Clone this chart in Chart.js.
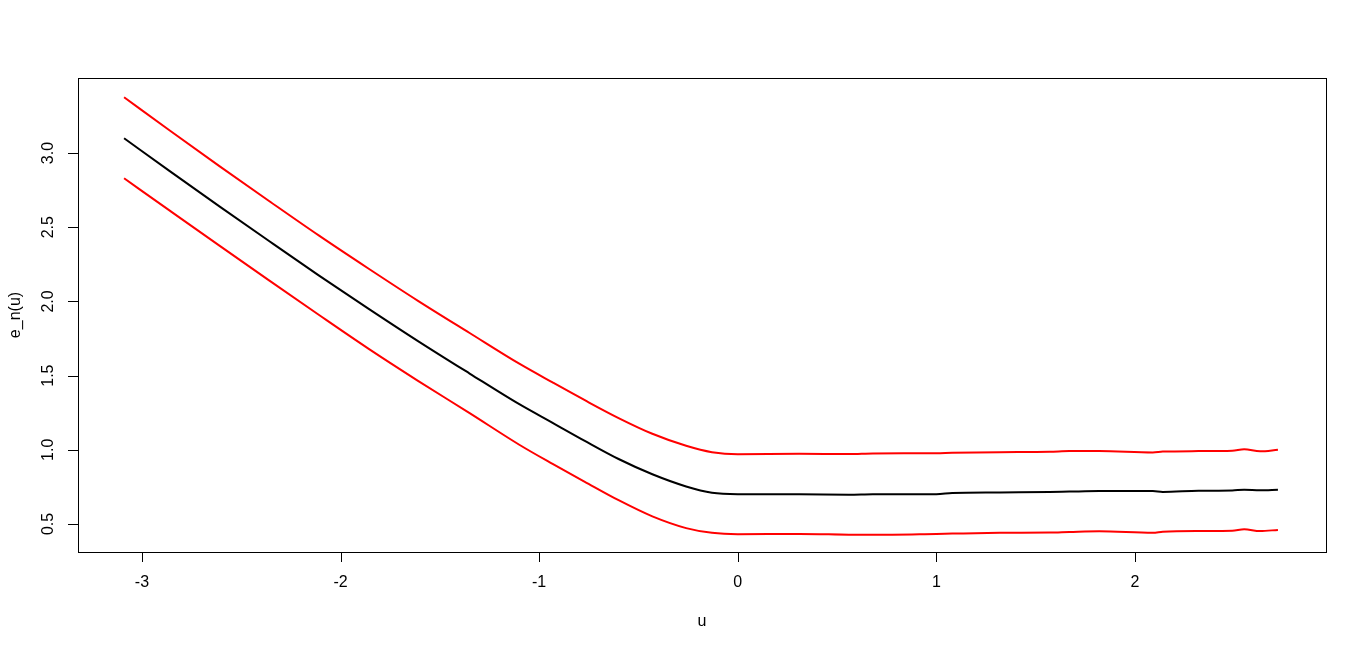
<!DOCTYPE html>
<html>
<head>
<meta charset="utf-8">
<script src="https://cdn.jsdelivr.net/npm/chart.js@4"></script>
<style>
  html, body { margin: 0; padding: 0; background: #fff; }
  canvas { display: block; }
</style>
</head>
<body>
<canvas id="chart" width="1366" height="651"></canvas>
<script>
// ---- data ----
const U = [-3.09, -2.86, -2.61, -2.36, -2.11, -1.86, -1.61, -1.35, -1.10, -0.93, -0.77, -0.60,
           -0.43, -0.26, -0.13, 0.0, 0.31, 0.56, 0.68, 1.00, 1.08, 1.32, 1.57, 1.67,
           1.82, 2.09, 2.14, 2.32, 2.49, 2.55, 2.63, 2.72];

const EN = [3.100, 2.878, 2.641, 2.407, 2.176, 1.952, 1.733, 1.514, 1.307, 1.180, 1.060, 0.938,
            0.835, 0.753, 0.711, 0.701, 0.700, 0.697, 0.700, 0.701, 0.708, 0.712, 0.715, 0.718,
            0.722, 0.722, 0.716, 0.724, 0.726, 0.731, 0.727, 0.731];

const UPPER = [3.376, 3.152, 2.912, 2.677, 2.445, 2.222, 2.004, 1.787, 1.580, 1.452, 1.334, 1.214,
               1.108, 1.027, 0.984, 0.970, 0.973, 0.971, 0.975, 0.977, 0.980, 0.984, 0.986, 0.991,
               0.991, 0.982, 0.988, 0.991, 0.994, 1.004, 0.990, 1.000];

const LOWER = [2.830, 2.612, 2.376, 2.142, 1.910, 1.682, 1.465, 1.247, 1.034, 0.903, 0.784, 0.660,
               0.551, 0.472, 0.440, 0.431, 0.433, 0.428, 0.427, 0.433, 0.435, 0.440, 0.442, 0.446,
               0.451, 0.440, 0.447, 0.453, 0.455, 0.464, 0.452, 0.460];

const X_TICKS = [-3, -2, -1, 0, 1, 2];
const Y_TICKS = [0.5, 1.0, 1.5, 2.0, 2.5, 3.0];
const X_LABEL = "u";
const Y_LABEL = "e_n(u)";

const FONT = "16px 'Liberation Sans', Arial, sans-serif";

function toPoints(xs, ys) {
  return xs.map((x, i) => ({ x: x, y: ys[i] }));
}

function lineSet(values, color) {
  return {
    data: toPoints(U, values),
    borderColor: color,
    borderWidth: 2,
    pointRadius: 0,
    showLine: true,
    fill: false,
    cubicInterpolationMode: "monotone"
  };
}

// R style frame: box, outward ticks, labels
const rFrame = {
  id: "rFrame",
  afterDraw(chart) {
    const { ctx, chartArea: a, scales } = chart;
    const xs = scales.x, ys = scales.y;
    ctx.save();
    ctx.strokeStyle = "#000";
    ctx.lineWidth = 1;
    ctx.strokeRect(a.left + 0.5, a.top + 0.5, a.right - a.left, a.bottom - a.top);

    ctx.fillStyle = "#000";
    ctx.font = FONT;

    // x axis
    ctx.beginPath();
    for (const t of X_TICKS) {
      const px = Math.round(xs.getPixelForValue(t)) + 0.5;
      ctx.moveTo(px, a.bottom);
      ctx.lineTo(px, a.bottom + 10);
    }
    ctx.stroke();
    ctx.textAlign = "center";
    ctx.textBaseline = "middle";
    for (const t of X_TICKS) {
      ctx.fillText(String(t), xs.getPixelForValue(t), a.bottom + 31);
    }
    ctx.fillText(X_LABEL, (a.left + a.right) / 2, a.bottom + 70);

    // y axis
    ctx.beginPath();
    for (const t of Y_TICKS) {
      const py = Math.round(ys.getPixelForValue(t)) + 0.5;
      ctx.moveTo(a.left, py);
      ctx.lineTo(a.left - 10, py);
    }
    ctx.stroke();
    for (const t of Y_TICKS) {
      ctx.save();
      ctx.translate(a.left - 29, ys.getPixelForValue(t));
      ctx.rotate(-Math.PI / 2);
      ctx.fillText(t.toFixed(1), 0, 0);
      ctx.restore();
    }
    ctx.save();
    ctx.translate(a.left - 62, (a.top + a.bottom) / 2);
    ctx.rotate(-Math.PI / 2);
    ctx.fillText(Y_LABEL, 0, 0);
    ctx.restore();

    ctx.restore();
  }
};

new Chart(document.getElementById("chart"), {
  type: "scatter",
  data: {
    datasets: [
      lineSet(EN, "#000000"),
      lineSet(UPPER, "#ff0000"),
      lineSet(LOWER, "#ff0000")
    ]
  },
  options: {
    responsive: false,
    animation: false,
    devicePixelRatio: 1,
    layout: { padding: { top: 78, right: 40, left: 0, bottom: 0 } },
    plugins: {
      legend: { display: false },
      tooltip: { enabled: false }
    },
    scales: {
      x: {
        type: "linear",
        min: -3.322,
        max: 2.962,
        grid: { display: false },
        border: { display: false },
        ticks: { display: false },
        afterFit: (s) => { s.height = 99; }
      },
      y: {
        type: "linear",
        min: 0.311,
        max: 3.506,
        grid: { display: false },
        border: { display: false },
        ticks: { display: false },
        afterFit: (s) => { s.width = 78; }
      }
    }
  },
  plugins: [rFrame]
});
</script>
</body>
</html>
